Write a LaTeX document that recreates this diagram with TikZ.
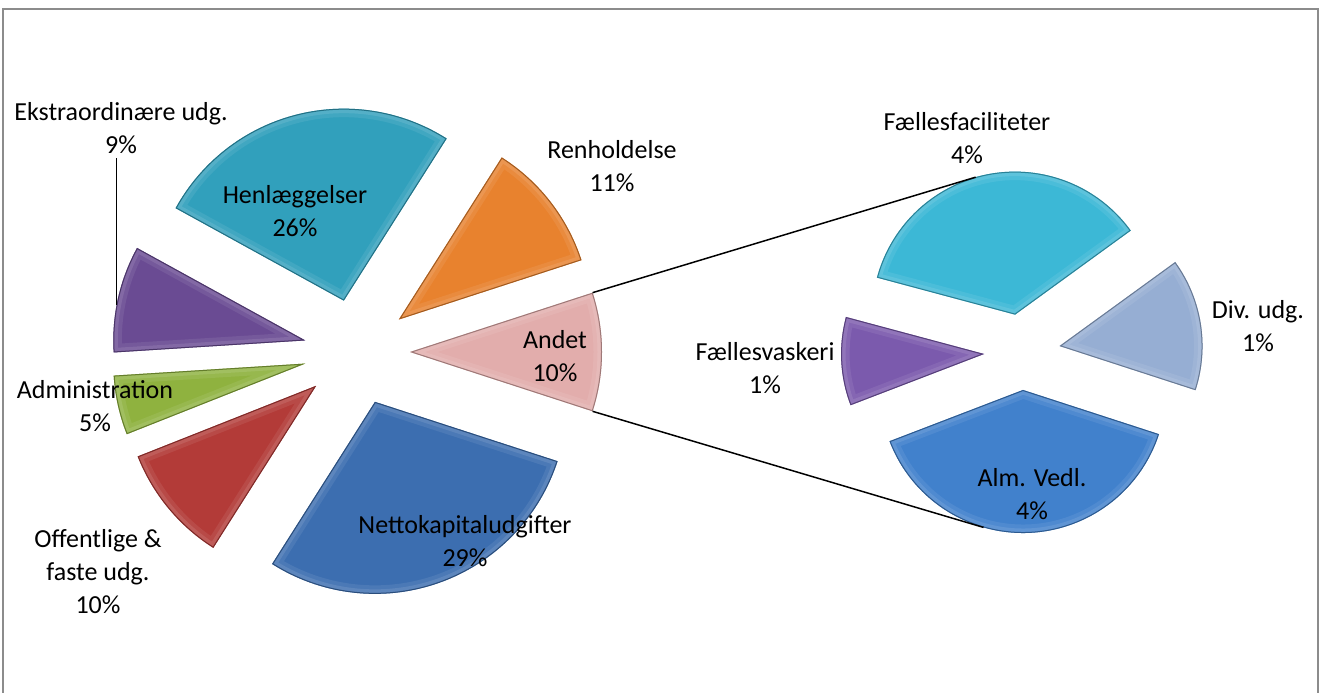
\documentclass[tikz,border=0pt]{standalone}
\usepackage{fontspec}
\setmainfont{Carlito}
\usetikzlibrary{calc}
\definecolor{henlcol}{HTML}{31A0BC}
\definecolor{renhcol}{HTML}{E8822E}
\definecolor{andetcol}{HTML}{E2ADAC}
\definecolor{nettocol}{HTML}{3C6EB0}
\definecolor{offcol}{HTML}{B33B38}
\definecolor{admincol}{HTML}{8FB23F}
\definecolor{ekstracol}{HTML}{6A4B93}
\definecolor{faccol}{HTML}{3CB8D6}
\definecolor{divcol}{HTML}{96AED3}
\definecolor{vaskcol}{HTML}{7B5AAD}
\definecolor{almcol}{HTML}{4181CC}
\definecolor{framecol}{HTML}{8C8C8C}
\tikzstyle{lbl} = [align=center, inner sep=0pt, font=\fontsize{14.8}{18.8}\selectfont]
\tikzstyle{leader} = [black, line width=0.85pt]
\tikzstyle{frame} = [draw=framecol, line width=0.05cm]
% #1 centre, #2 start angle, #3 end angle, #4 radius, #5 explode, #6 colour
\newcommand{\pieslice}[6]{
  \coordinate (tip) at ($(#1)+({(#2+#3)/2}:#5)$);
  \fill[#6] (tip) -- ++(#2:#4) arc[start angle=#2, end angle=#3, radius=#4] -- cycle;
  \begin{scope}
    \clip (tip) -- ++(#2:#4) arc[start angle=#2, end angle=#3, radius=#4] -- cycle;
    \draw[white, opacity=0.08, line width=0.34cm, line join=round] (tip) -- ++(#2:#4) arc[start angle=#2, end angle=#3, radius=#4] -- cycle;
    \draw[white, opacity=0.1, line width=0.18cm, line join=round] (tip) -- ++(#2:#4) arc[start angle=#2, end angle=#3, radius=#4] -- cycle;
    \draw[#6!70!black, line width=0.04cm, line join=round] (tip) -- ++(#2:#4) arc[start angle=#2, end angle=#3, radius=#4] -- cycle;
  \end{scope}
}
\begin{document}
\begin{tikzpicture}[x=0.02cm, y=0.02cm]
    \clip (0,0) rectangle (1322,693);
    \fill[white] (0,0) rectangle (1322,693);
    \draw[frame] (3,-20) -- (3,684) -- (1318,684) -- (1318,-20);

    % centres
    \coordinate (lc) at (357,341);
    \coordinate (rc) at (1022,341);

    % main pie
    \pieslice{lc}{-18}{18}{192}{53}{andetcol}
    \pieslice{lc}{18}{57.6}{192}{53}{renhcol}
    \pieslice{lc}{57.6}{151.2}{192}{53}{henlcol}
    \pieslice{lc}{151.2}{183.6}{192}{53}{ekstracol}
    \pieslice{lc}{183.6}{201.6}{192}{53}{admincol}
    \pieslice{lc}{201.6}{237.6}{192}{53}{offcol}
    \pieslice{lc}{237.6}{342}{192}{53}{nettocol}

    % second pie
    \pieslice{rc}{-18}{36}{143}{38}{divcol}
    \pieslice{rc}{36}{165}{143}{38}{faccol}
    \pieslice{rc}{165}{201}{143}{38}{vaskcol}
    \pieslice{rc}{201}{342}{143}{38}{almcol}

    % series lines
    \coordinate (andet-top) at ($(lc)+(0:53)+(18:192)$);
    \coordinate (andet-bot) at ($(lc)+(0:53)+(-18:192)$);
    \coordinate (fac-top) at ($(rc)+(100.5:38)+(106:143)$);
    \coordinate (alm-bot) at ($(rc)+(271.5:38)+(254:143)$);
    \draw[leader] (andet-top) -- (fac-top);
    \draw[leader] (andet-bot) -- (alm-bot);

    % labels
    \node[lbl] (ekstra) at (121,564.5) {Ekstraordinære udg.\\9\%};
    \node[lbl] (henl) at (295,481.5) {Henlæggelser\\26\%};
    \node[lbl] (renh) at (612,527) {Renholdelse\\11\%};
    \node[lbl] (andet) at (555,337) {Andet\\10\%};
    \node[lbl] (admin) at (95,286.5) {Administration\\5\%};
    \node[lbl] (offentl) at (98,121.5) {Offentlige \&\\faste udg.\\10\%};
    \node[lbl] (netto) at (465,152) {Nettokapitaludgifter\\29\%};
    \node[lbl] (fac) at (967,554.5) {Fællesfaciliteter\\4\%};
    \node[lbl] (div) at (1258,367) {Div. udg.\\1\%};
    \node[lbl] (vask) at (765,325) {Fællesvaskeri\\1\%};
    \node[lbl] (alm) at (1032,199) {Alm. Vedl.\\4\%};

    % leader line
    \coordinate (ekstra-pt) at ($(lc)+(167.4:53)+(169.5:192)$);
    \draw[leader] ($(ekstra.south -| ekstra-pt)+(0,-4)$) -- (ekstra-pt);
\end{tikzpicture}
\end{document}
